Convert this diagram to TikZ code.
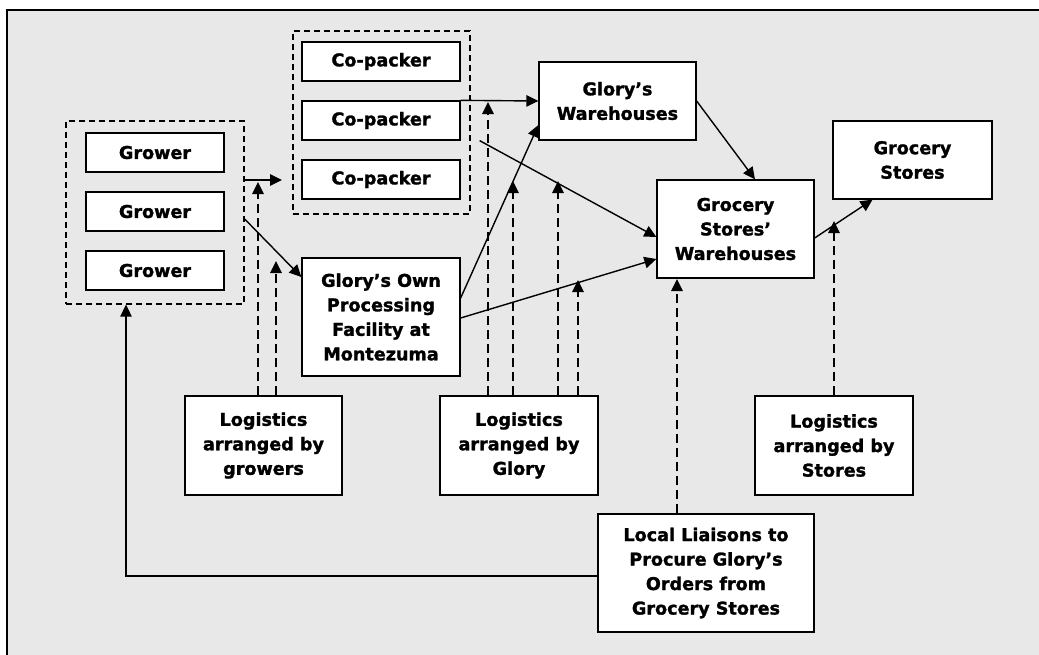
\documentclass[tikz,border=0pt]{standalone}
\usepackage{fontspec}
\setmainfont{DejaVu Sans}[BoldFeatures={FakeBold=1.5}]
\usetikzlibrary{arrows.meta, calc}
\definecolor{panel}{gray}{0.91}

\begin{document}
\begin{tikzpicture}[x=1pt,y=-1pt,
  every node/.style={font=\fontsize{17.6}{24.5}\selectfont\bfseries,align=center,inner sep=0pt},
  box/.style={draw,fill=white,line width=1.3pt,minimum width=158pt},
  group/.style={draw,line width=1.3pt,dash pattern=on 6pt off 4pt},
  flow/.style={-{Triangle[length=12pt,width=11.5pt]},line width=1.4pt},
  logi/.style={flow,dash pattern=on 9pt off 5pt}]
  \useasboundingbox (0,0) rectangle (1039,654);
  \fill[panel] (7,10) rectangle (1045,660);
  \draw[line width=2pt] (7,660) -- (7,10) -- (1045,10);
  \path (155,212.5) node[group,minimum width=178pt,minimum height=183pt] (growers) {}
  (381.5,122.5) node[group,minimum width=177pt,minimum height=183pt] (copackers) {};
  \path (155,152.5) node[box,minimum width=138pt,minimum height=39pt] (g1) {Grower}
  (155,211.5) node[box,minimum width=138pt,minimum height=39pt] (g2) {Grower}
  (155,270.5) node[box,minimum width=138pt,minimum height=39pt] (g3) {Grower}
  (381,61.5) node[box,minimum height=39pt] (cp1) {Co-packer}
  (381,120.5) node[box,minimum height=39pt] (cp2) {Co-packer}
  (381,179.5) node[box,minimum height=39pt] (cp3) {Co-packer}
  (381,317) node[box,minimum height=118pt] (own) {Glory’s Own\\Processing\\Facility at\\Montezuma}
  (617.5,101) node[box,minimum width=157pt,minimum height=78pt] (gwh) {Glory’s\\Warehouses}
  (735.5,229) node[box,minimum width=157pt,minimum height=98pt] (gsw) {Grocery\\Stores’\\Warehouses}
  (912.5,160) node[box,minimum width=159pt,minimum height=78pt] (stores) {Grocery\\Stores}
  (263.5,445.5) node[box,minimum width=157pt,minimum height=99pt] (lgrow) {Logistics\\arranged by\\growers}
  (519,445.5) node[box,minimum height=99pt] (lglory) {Logistics\\arranged by\\Glory}
  (834,445.5) node[box,minimum height=99pt] (lstores) {Logistics\\arranged by\\Stores}
  (706,573) node[box,minimum width=216pt,minimum height=118pt] (liaison) {Local Liaisons to\\Procure Glory’s\\Orders from\\Grocery Stores};
  \path (282,180) coordinate (cpin) (258,182) coordinate (a1) (276,261) coordinate (a2)
  (488,102) coordinate (a3) (513,181) coordinate (a4) (558,181) coordinate (a5)
  (578,280) coordinate (a6) (834,221) coordinate (a7) (677,279) coordinate (a8);
  \draw[flow] (growers.east |- cpin) -- (cpin);
  \draw[flow] ([yshift=-6.5pt]growers.east) -- ([yshift=40pt]own.west);
  \draw[flow] (cp2.north east) -- (gwh.west);
  \draw[flow] ($(cp2.south east)+(19,0)$) -- ([yshift=-8pt]gsw.west);
  \draw[flow] ([yshift=19pt]own.east) -- ([yshift=-24pt]gwh.west);
  \draw[flow] ([yshift=-1pt]own.east) -- ([yshift=-30pt]gsw.west);
  \draw[flow] (gwh.east) -- ([xshift=19.5pt]gsw.north);
  \draw[flow] ([yshift=-9pt]gsw.east) -- ([xshift=-40pt]stores.south);
  \draw[flow] ([yshift=-3pt]liaison.west) -| ([xshift=-29pt]growers.south);
  \draw[logi] (lgrow.north -| a1) -- (a1);
  \draw[logi] (lgrow.north -| a2) -- (a2);
  \draw[logi] (lglory.north -| a3) -- (a3);
  \draw[logi] (lglory.north -| a4) -- (a4);
  \draw[logi] (lglory.north -| a5) -- (a5);
  \draw[logi] (lglory.north -| a6) -- (a6);
  \draw[logi] (lstores.north -| a7) -- (a7);
  \draw[logi] (liaison.north -| a8) -- (a8);
\end{tikzpicture}
\end{document}
